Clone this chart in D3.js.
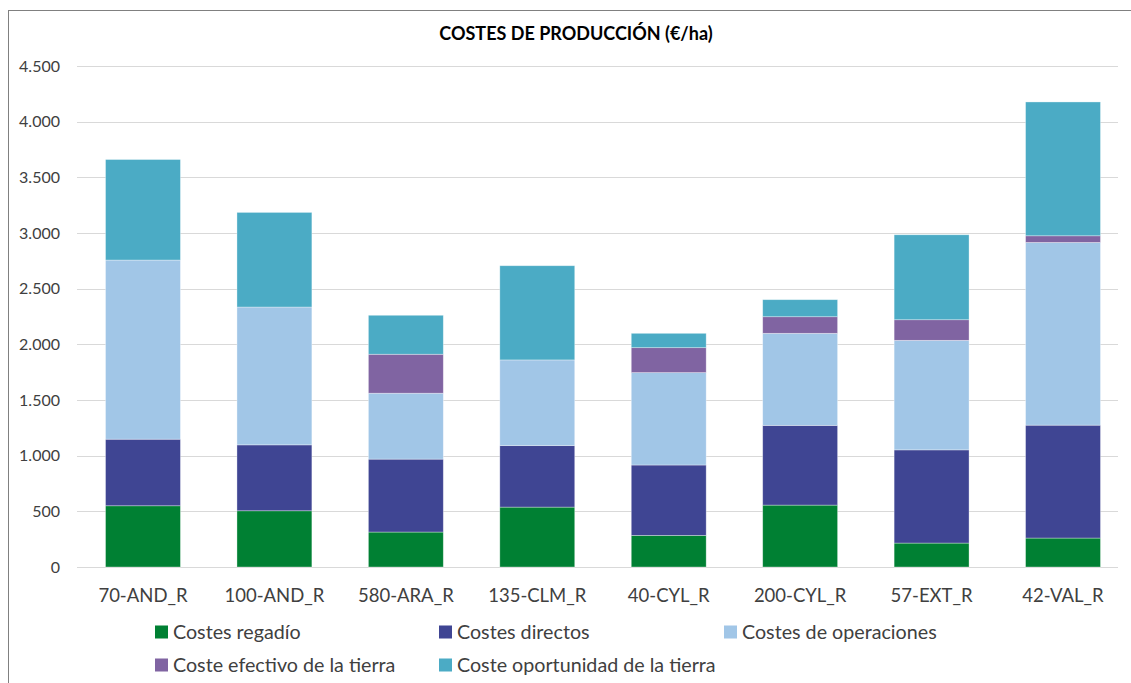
<!DOCTYPE html>
<html>
<head>
<meta charset="utf-8">
<script src="https://cdn.jsdelivr.net/npm/d3@7"></script>
<style>
  body { margin: 0; background: #fff; }
  svg { display: block; font-family: Lato, "Open Sans", sans-serif; }
  .grid line { stroke: #d9d9d9; stroke-width: 1; }
  .tick-label { fill: #404040; font-size: 16px; }
  .cat-label { fill: #404040; font-size: 18.5px; }
  .legend-label { fill: #404040; font-size: 19.7px; }
</style>
</head>
<body>
<div id="chart"></div>
<script>
// categories along the x axis
const categories = ['70-AND_R', '100-AND_R', '580-ARA_R', '135-CLM_R', '40-CYL_R', '200-CYL_R', '57-EXT_R', '42-VAL_R'];

// series names (stack order, bottom to top)
const seriesNames = ['Costes regadío', 'Costes directos', 'Costes de operaciones', 'Coste efectivo de la tierra', 'Coste oportunidad de la tierra'];

// values per series, €/ha
const costesRegadio = [550, 505, 314, 538, 284, 556, 215, 260];
const costesDirectos = [598, 592, 655, 552, 632, 716, 837, 1014];
const costesOperaciones = [1609, 1238, 592, 770, 830, 827, 984, 1641];
const costeEfectivoTierra = [0, 0, 350, 0, 224, 149, 185, 60];
const costeOportunidadTierra = [903, 850, 350, 846, 129, 153, 763, 1202];

// y axis ticks
const yTicks = [0, 500, 1000, 1500, 2000, 2500, 3000, 3500, 4000, 4500];

const seriesColors = ['#008033', '#3f4593', '#a1c6e7', '#8064a2', '#4babc5'];

function drawChart() {
    const W = 1131, H = 683;
    const svg = d3.select('#chart').append('svg')
        .attr('width', W)
        .attr('height', H);

    // chart frame (cut off on right and bottom like the original)
    svg.append('rect')
        .attr('x', 8.5).attr('y', 10.5)
        .attr('width', W + 20).attr('height', H + 20)
        .attr('fill', '#fff')
        .attr('stroke', '#808080')
        .attr('stroke-width', 1);

    const plot = {left: 77, right: 1118, top: 66, bottom: 567};

    const x = d3.scaleBand()
        .domain(categories)
        .range([plot.left, 1129])
        .paddingInner(0.43)
        .paddingOuter(0.217);

    const y = d3.scaleLinear()
        .domain([0, 4500])
        .range([plot.bottom, plot.top]);

    // title
    svg.append('text')
        .attr('x', 576)
        .attr('y', 40)
        .attr('text-anchor', 'middle')
        .attr('font-size', 18)
        .attr('font-weight', 'bold')
        .attr('fill', '#000')
        .text('COSTES DE PRODUCCIÓN (€/ha)');

    // gridlines
    svg.append('g')
        .attr('class', 'grid')
        .selectAll('line')
        .data(yTicks)
        .enter().append('line')
        .attr('x1', plot.left)
        .attr('x2', plot.right)
        .attr('y1', d => Math.round(y(d)) + 0.5)
        .attr('y2', d => Math.round(y(d)) + 0.5);

    // y axis labels
    const fmt = d3.formatLocale({decimal: ',', thousands: '.', grouping: [3], currency: ['', '€']}).format(',');
    svg.append('g')
        .selectAll('text')
        .data(yTicks)
        .enter().append('text')
        .attr('class', 'tick-label')
        .attr('x', 60)
        .attr('y', d => y(d))
        .attr('dy', '0.35em')
        .attr('text-anchor', 'end')
        .text(d => fmt(d));

    // stacked data
    const rows = categories.map((c, i) => ({
        cat: c,
        s0: costesRegadio[i],
        s1: costesDirectos[i],
        s2: costesOperaciones[i],
        s3: costeEfectivoTierra[i],
        s4: costeOportunidadTierra[i]
    }));
    const stack = d3.stack().keys(['s0', 's1', 's2', 's3', 's4']);
    const layers = stack(rows);

    svg.append('g')
        .selectAll('g')
        .data(layers)
        .enter().append('g')
        .attr('fill', (d, i) => seriesColors[i])
        .selectAll('rect')
        .data(d => d.filter(p => p[1] - p[0] > 0))
        .enter().append('rect')
        .attr('x', d => x(d.data.cat))
        .attr('width', x.bandwidth())
        .attr('y', d => y(d[1]))
        .attr('height', d => y(d[0]) - y(d[1]))
        .attr('stroke', 'rgba(255,255,255,0.45)')
        .attr('stroke-width', 0.75);

    // x axis category labels
    svg.append('g')
        .selectAll('text')
        .data(categories)
        .enter().append('text')
        .attr('class', 'cat-label')
        .attr('x', d => x(d) + x.bandwidth() / 2)
        .attr('y', 602)
        .attr('text-anchor', 'middle')
        .text(d => d);

    // legend
    const legendCols = [155, 439, 724];
    const legendRows = [632, 665];
    const legend = svg.append('g')
        .selectAll('g')
        .data(seriesNames)
        .enter().append('g')
        .attr('transform', (d, i) => `translate(${legendCols[i % 3]},${legendRows[Math.floor(i / 3)]})`);

    legend.append('rect')
        .attr('x', 0).attr('y', -6.5)
        .attr('width', 13).attr('height', 13)
        .attr('fill', (d, i) => seriesColors[i]);

    legend.append('text')
        .attr('class', 'legend-label')
        .attr('x', 18)
        .attr('y', 0)
        .attr('dy', '0.35em')
        .text(d => d);
}

document.addEventListener('DOMContentLoaded', drawChart);
</script>
</body>
</html>
